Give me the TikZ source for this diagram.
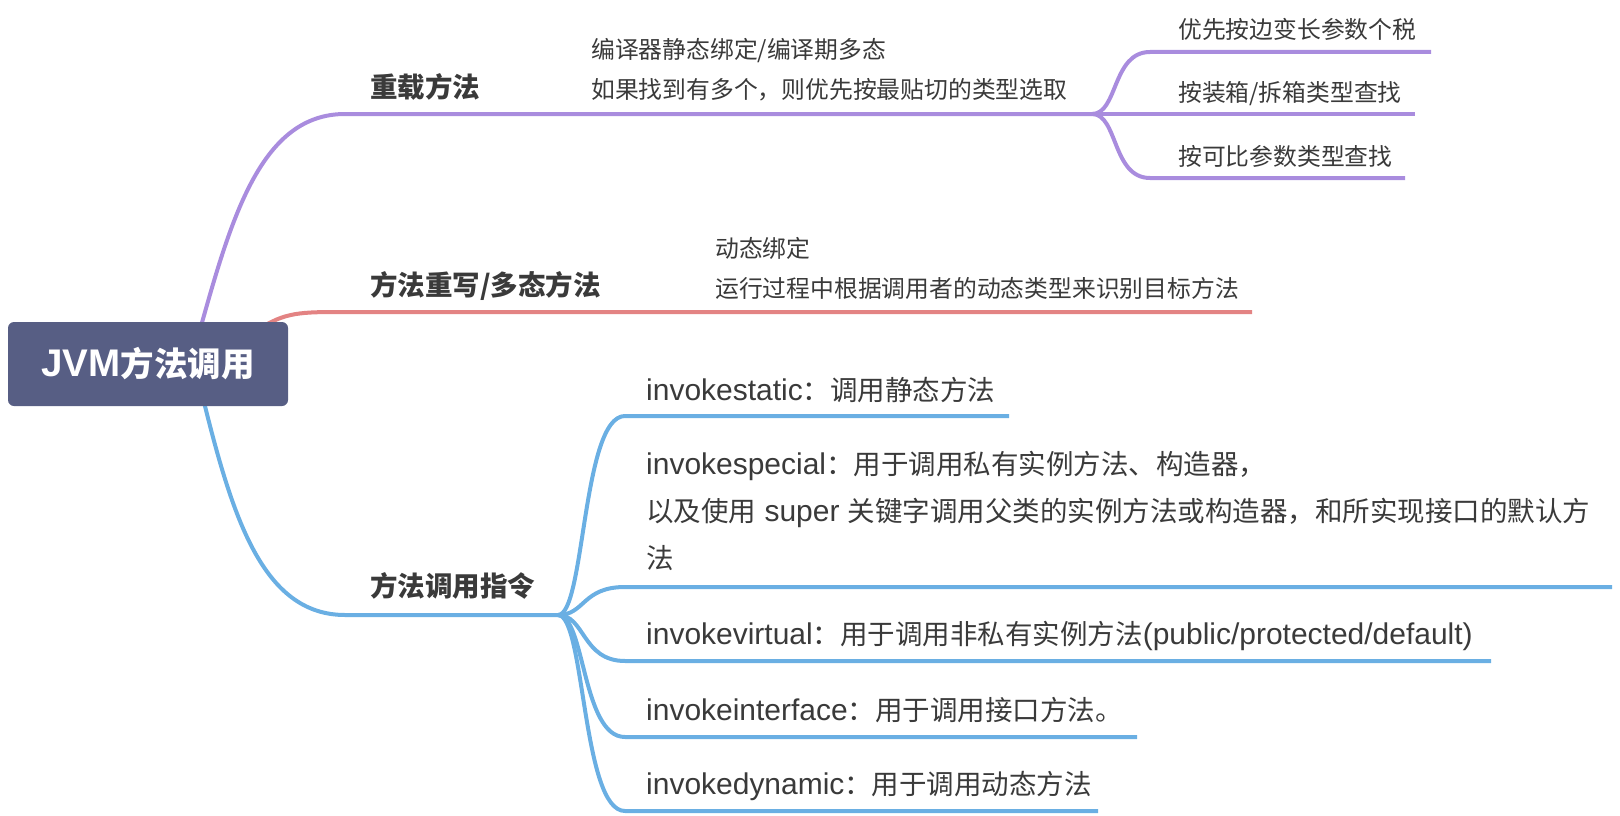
\documentclass[tikz,border=0pt]{standalone}
\usepackage{fontspec}
\setmainfont{Noto Sans CJK SC}
\newfontfamily\lat[Scale=1.15]{Liberation Sans}
\newfontfamily\latb[Scale=1.09]{Liberation Sans}
\usetikzlibrary{backgrounds}
\definecolor{purp}{HTML}{A98CDE}
\definecolor{redl}{HTML}{E38383}
\definecolor{blueL}{HTML}{6AAFE3}
\definecolor{rootc}{HTML}{575E84}
\definecolor{txt}{HTML}{3A3A3A}
\begin{document}
\begin{tikzpicture}[x=1pt,y=-1pt,
  lab/.style={anchor=base west, inner sep=0pt, text=txt, font=\fontsize{27.5}{32}\selectfont\bfseries},
  sub/.style={anchor=base west, inner sep=0pt, text=txt, align=left, font=\fontsize{23.8}{40}\selectfont},
  inv/.style={anchor=base west, inner sep=0pt, text=txt, align=left, font=\fontsize{27.5}{47}\selectfont},
  rootbox/.style={fill=rootc, rounded corners=6pt, minimum width=280pt, minimum height=84pt, inner sep=0pt, text=white, font=\fontsize{33.5}{40}\selectfont\bfseries},
  br/.style={line width=4pt}]
\useasboundingbox (0,0) rectangle (1620,816);

\node[rootbox] (root) at (148,364) {{\lat JVM}方法调用};

\coordinate (P) at (1092,114);
\coordinate (B) at (558,615);

% level 1 labels
\node[lab] (ovl) at (370,98) {重载方法};
\node[lab] (ovr) at (370,295) {方法重写/多态方法};
\node[lab] (ins) at (370,596) {方法调用指令};

% details (base anchor = baseline of the last line)
\node[sub] (ovls) at (591,99) {编译器静态绑定/编译期多态\\如果找到有多个，则优先按最贴切的类型选取};
\node[sub] (c1) at (1178,39) {优先按边变长参数个税};
\node[sub] (c2) at (1178,102) {按装箱/拆箱类型查找};
\node[sub] (c3) at (1178,165) {按可比参数类型查找};
\node[sub] (ovrs) at (715,297) {动态绑定\\运行过程中根据调用者的动态类型来识别目标方法};

\node[inv] (i1) at (646,400) {{\latb invokestatic}：调用静态方法};
\node[inv] (i2) at (646,568) {{\latb invokespecial}：用于调用私有实例方法、构造器，\\以及使用{\latb\ super\ }关键字调用父类的实例方法或构造器，和所实现接口的默认方\\法};
\node[inv] (i3) at (646,644) {{\latb invokevirtual}：用于调用非私有实例方法{\latb (public/protected/default)}};
\node[inv] (i4) at (646,720) {{\latb invokeinterface}：用于调用接口方法。};
\node[inv] (i5) at (646,794) {{\latb invokedynamic}：用于调用动态方法};

\begin{pgfonlayer}{background}
% purple branch
\draw[br,purp] ([shift={(52,8)}]root.north) .. controls (232,215) and (262,114) .. (345,114) -- (P);
\draw[br,purp] (P) .. controls (1118,114) and (1112,52) .. (1150,52) -- (1431,52);
\draw[br,purp] (P) -- (1415,114);
\draw[br,purp] (P) .. controls (1118,114) and (1112,178) .. (1150,178) -- (1405,178);
% red branch
\draw[br,redl] ([shift={(110,8)}]root.north) .. controls (285,312) and (300,312) .. (345,312) -- (1252,312);
% blue branch
\draw[br,blueL] ([shift={(55,-8)}]root.south) .. controls (232,515) and (262,615) .. (345,615) -- (B);
\draw[br,blueL] (B) .. controls (585,615) and (582,416) .. (625,416) -- (1009,416);
\draw[br,blueL] (B) .. controls (585,615) and (582,587) .. (625,587) -- (1612,587);
\draw[br,blueL] (B) .. controls (585,615) and (582,661) .. (625,661) -- (1491,661);
\draw[br,blueL] (B) .. controls (585,615) and (582,737) .. (625,737) -- (1137,737);
\draw[br,blueL] (B) .. controls (585,615) and (582,811) .. (625,811) -- (1098,811);
\end{pgfonlayer}
\end{tikzpicture}
\end{document}
